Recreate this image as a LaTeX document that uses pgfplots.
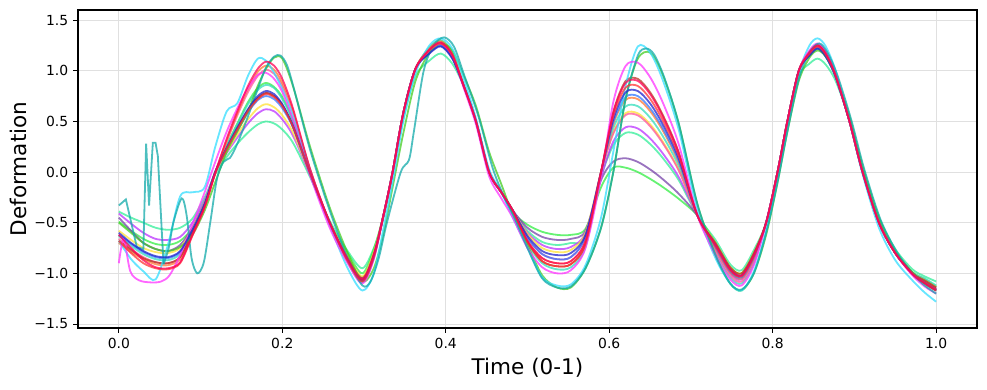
\documentclass[border=0pt]{standalone}
\usepackage{fontspec}
\setmainfont{DejaVu Sans}
\usepackage{pgfplots}
\usepackage{pgfplotstable}
\pgfplotsset{compat=1.18}
\definecolor{csg}{HTML}{33EE99}
\definecolor{cgr}{HTML}{33EE44}
\definecolor{cmp}{HTML}{7744AA}
\definecolor{cvi}{HTML}{BB33FF}
\definecolor{cye}{HTML}{FFE033}
\definecolor{chp}{HTML}{FF5599}
\definecolor{cor}{HTML}{FF7733}
\definecolor{cdb}{HTML}{3377FF}
\definecolor{cbl}{HTML}{2222CC}
\definecolor{cbr}{HTML}{BB3322}
\definecolor{ctq}{HTML}{33DDBB}
\definecolor{ccy}{HTML}{33DDFF}
\definecolor{clm}{HTML}{44CC22}
\definecolor{crd}{HTML}{FF3333}
\definecolor{ccr}{HTML}{FF0055}
\definecolor{cmg}{HTML}{FF33FF}
\definecolor{cte}{HTML}{11AAAA}
\pgfplotstableread{
t sg gr mp vi ye hp or db bl br tq cy lm rd cr
0.000 -0.39 -0.49 -0.45 -0.41 -0.58 -0.66 -0.70 -0.62 -0.60 -0.68 -0.63 -0.68 -0.50 -0.68 -0.62
0.015 -0.45 -0.58 -0.58 -0.51 -0.67 -0.76 -0.79 -0.71 -0.70 -0.77 -0.73 -0.86 -0.60 -0.80 -0.75
0.030 -0.50 -0.66 -0.70 -0.60 -0.75 -0.84 -0.86 -0.79 -0.78 -0.85 -0.81 -0.98 -0.70 -0.90 -0.87
0.045 -0.55 -0.71 -0.76 -0.66 -0.79 -0.89 -0.91 -0.84 -0.83 -0.89 -0.86 -1.06 -0.76 -0.95 -0.94
0.060 -0.57 -0.72 -0.78 -0.67 -0.80 -0.90 -0.92 -0.85 -0.84 -0.90 -0.87 -0.72 -0.78 -0.96 -0.95
0.075 -0.55 -0.68 -0.72 -0.64 -0.75 -0.84 -0.86 -0.79 -0.78 -0.84 -0.81 -0.24 -0.74 -0.90 -0.89
0.090 -0.46 -0.55 -0.55 -0.50 -0.56 -0.60 -0.61 -0.58 -0.57 -0.60 -0.59 -0.20 -0.62 -0.63 -0.62
0.105 -0.25 -0.29 -0.30 -0.28 -0.30 -0.33 -0.34 -0.32 -0.31 -0.33 -0.32 -0.15 -0.38 -0.35 -0.34
0.118 -0.02 -0.01 0.00 0.00 0.00 0.00 -0.01 0.00 0.00 0.00 0.00 0.25 -0.10 -0.01 -0.01
0.132 0.15 0.26 0.23 0.19 0.20 0.30 0.31 0.23 0.24 0.23 0.26 0.60 0.20 0.23 0.33
0.145 0.28 0.48 0.43 0.34 0.37 0.56 0.58 0.41 0.44 0.43 0.47 0.68 0.40 0.42 0.60
0.158 0.39 0.69 0.61 0.48 0.52 0.79 0.82 0.59 0.62 0.61 0.67 0.95 0.60 0.60 0.85
0.170 0.47 0.83 0.73 0.58 0.63 0.95 0.99 0.71 0.75 0.73 0.81 1.12 0.85 0.72 1.02
0.180 0.50 0.88 0.78 0.62 0.67 1.01 1.05 0.75 0.80 0.78 0.86 1.10 1.02 0.77 1.09
0.190 0.48 0.84 0.75 0.60 0.64 0.97 1.01 0.72 0.77 0.75 0.83 0.98 1.13 0.74 1.05
0.200 0.42 0.74 0.66 0.52 0.56 0.85 0.88 0.63 0.67 0.66 0.72 0.82 1.12 0.65 0.92
0.213 0.29 0.51 0.45 0.36 0.39 0.59 0.61 0.44 0.46 0.45 0.50 0.56 0.85 0.45 0.63
0.234 -0.05 0.00 -0.01 -0.03 -0.02 0.02 0.03 -0.02 -0.01 -0.01 0.00 0.02 0.25 -0.01 0.03
0.258 -0.48 -0.50 -0.50 -0.52 -0.50 -0.50 -0.50 -0.50 -0.50 -0.50 -0.50 -0.52 -0.35 -0.50 -0.50
0.280 -0.78 -0.80 -0.84 -0.85 -0.83 -0.86 -0.87 -0.88 -0.87 -0.85 -0.89 -0.95 -0.80 -0.88 -0.86
0.298 -0.95 -1.00 -1.04 -1.05 -1.03 -1.06 -1.07 -1.08 -1.07 -1.05 -1.09 -1.17 -1.08 -1.08 -1.06
0.312 -0.75 -0.76 -0.80 -0.81 -0.79 -0.82 -0.83 -0.84 -0.83 -0.81 -0.85 -1.00 -0.95 -0.84 -0.82
0.324 -0.45 -0.42 -0.42 -0.42 -0.42 -0.42 -0.42 -0.42 -0.42 -0.42 -0.42 -0.55 -0.60 -0.42 -0.42
0.335 -0.02 0.00 0.00 0.00 0.00 0.00 0.00 0.00 0.00 0.00 0.00 -0.10 -0.15 0.00 0.00
0.348 0.52 0.58 0.58 0.58 0.58 0.58 0.58 0.58 0.58 0.58 0.58 0.50 0.38 0.58 0.58
0.363 0.95 1.02 1.02 1.02 1.02 1.02 1.02 1.02 1.02 1.02 1.02 0.98 0.90 1.02 1.02
0.380 1.10 1.18 1.19 1.18 1.23 1.20 1.22 1.18 1.17 1.20 1.23 1.25 1.18 1.20 1.21
0.394 1.17 1.25 1.26 1.25 1.30 1.27 1.29 1.25 1.24 1.27 1.30 1.32 1.27 1.27 1.28
0.408 1.07 1.13 1.14 1.13 1.18 1.15 1.17 1.13 1.12 1.15 1.18 1.22 1.20 1.15 1.16
0.422 0.85 0.85 0.85 0.85 0.86 0.85 0.85 0.85 0.85 0.85 0.86 0.92 0.95 0.85 0.85
0.437 0.50 0.50 0.50 0.50 0.50 0.50 0.50 0.50 0.50 0.50 0.50 0.53 0.65 0.50 0.50
0.453 0.00 0.00 0.00 0.00 0.00 0.00 0.00 0.00 0.00 0.00 0.00 0.03 0.20 0.00 0.00
0.468 -0.20 -0.20 -0.20 -0.20 -0.20 -0.20 -0.20 -0.20 -0.20 -0.20 -0.20 -0.20 -0.12 -0.20 -0.20
0.482 -0.38 -0.40 -0.38 -0.38 -0.38 -0.38 -0.38 -0.38 -0.38 -0.38 -0.38 -0.45 -0.42 -0.38 -0.38
0.500 -0.58 -0.52 -0.55 -0.60 -0.61 -0.65 -0.68 -0.65 -0.63 -0.69 -0.71 -0.75 -0.72 -0.69 -0.68
0.518 -0.69 -0.59 -0.64 -0.72 -0.75 -0.81 -0.85 -0.81 -0.78 -0.88 -0.90 -1.04 -1.02 -0.88 -0.85
0.536 -0.72 -0.62 -0.67 -0.76 -0.79 -0.86 -0.90 -0.86 -0.82 -0.93 -0.96 -1.12 -1.14 -0.93 -0.90
0.553 -0.70 -0.62 -0.66 -0.74 -0.77 -0.84 -0.88 -0.84 -0.80 -0.91 -0.94 -1.11 -1.14 -0.91 -0.88
0.571 -0.65 -0.56 -0.58 -0.60 -0.60 -0.64 -0.68 -0.64 -0.62 -0.71 -0.74 -0.92 -0.95 -0.71 -0.68
0.590 -0.05 -0.15 -0.08 -0.05 0.00 0.00 0.00 0.00 0.00 0.00 -0.02 -0.45 -0.55 0.00 0.00
0.605 0.265 0.043 0.103 0.301 0.391 0.379 0.475 0.493 0.523 0.595 0.433 0.20 0.00 0.553 0.583
0.620 0.387 0.043 0.136 0.442 0.582 0.563 0.712 0.740 0.787 0.898 0.647 0.85 0.72 0.833 0.880
0.635 0.37 0.00 0.10 0.43 0.58 0.56 0.72 0.75 0.80 0.92 0.65 1.24 1.12 0.85 0.90
0.650 0.277 -0.067 0.026 0.332 0.472 0.453 0.602 0.630 0.677 0.788 0.537 1.18 1.18 0.723 0.770
0.665 0.144 -0.145 -0.067 0.190 0.307 0.292 0.417 0.440 0.479 0.573 0.362 0.92 0.97 0.518 0.557
0.685 -0.079 -0.264 -0.214 -0.049 0.026 0.016 0.096 0.111 0.136 0.196 0.061 0.42 0.48 0.161 0.186
0.708 -0.43 -0.43 -0.43 -0.43 -0.43 -0.43 -0.43 -0.43 -0.43 -0.43 -0.43 -0.38 -0.32 -0.43 -0.43
0.730 -0.67 -0.70 -0.73 -0.76 -0.70 -0.78 -0.75 -0.74 -0.72 -0.70 -0.80 -0.85 -0.82 -0.73 -0.72
0.748 -0.91 -0.94 -0.97 -1.00 -0.94 -1.02 -0.99 -0.98 -0.96 -0.94 -1.04 -1.10 -1.10 -0.97 -0.96
0.762 -0.97 -1.00 -1.03 -1.06 -1.00 -1.08 -1.05 -1.04 -1.02 -1.00 -1.10 -1.17 -1.17 -1.03 -1.02
0.777 -0.77 -0.80 -0.83 -0.86 -0.80 -0.88 -0.85 -0.84 -0.82 -0.80 -0.90 -0.98 -1.00 -0.83 -0.82
0.792 -0.50 -0.50 -0.50 -0.50 -0.50 -0.50 -0.50 -0.50 -0.50 -0.50 -0.50 -0.58 -0.62 -0.50 -0.50
0.806 0.00 0.00 0.00 0.00 0.00 0.00 0.00 0.00 0.00 0.00 0.00 -0.05 -0.10 0.00 0.00
0.818 0.48 0.50 0.50 0.50 0.50 0.50 0.50 0.50 0.50 0.50 0.50 0.45 0.40 0.50 0.50
0.832 0.95 1.00 1.00 1.00 1.00 1.00 1.00 1.00 1.00 1.00 1.00 0.98 0.90 1.00 1.00
0.845 1.07 1.15 1.16 1.15 1.17 1.18 1.17 1.16 1.15 1.19 1.15 1.25 1.13 1.17 1.18
0.855 1.12 1.22 1.23 1.22 1.24 1.25 1.24 1.23 1.22 1.26 1.22 1.32 1.20 1.24 1.25
0.865 1.06 1.14 1.15 1.14 1.16 1.17 1.16 1.15 1.14 1.18 1.14 1.24 1.14 1.16 1.17
0.877 0.90 0.94 0.945 0.94 0.95 0.955 0.95 0.945 0.94 0.96 0.94 1.00 0.96 0.95 0.955
0.894 0.52 0.50 0.50 0.50 0.50 0.50 0.50 0.50 0.50 0.50 0.50 0.50 0.55 0.50 0.50
0.910 0.03 0.00 0.00 0.00 0.00 0.00 0.00 0.00 0.00 0.00 0.00 -0.02 0.06 0.00 0.00
0.930 -0.45 -0.50 -0.50 -0.50 -0.50 -0.50 -0.50 -0.50 -0.50 -0.50 -0.50 -0.55 -0.45 -0.50 -0.50
0.950 -0.76 -0.80 -0.80 -0.80 -0.80 -0.80 -0.80 -0.80 -0.80 -0.80 -0.80 -0.87 -0.78 -0.80 -0.80
0.971 -0.96 -0.99 -1.00 -1.00 -0.99 -1.00 -1.01 -1.01 -1.00 -1.00 -0.99 -1.07 -0.99 -1.00 -1.01
0.986 -1.03 -1.06 -1.07 -1.09 -1.06 -1.09 -1.10 -1.10 -1.09 -1.07 -1.05 -1.19 -1.10 -1.09 -1.10
1.000 -1.08 -1.13 -1.14 -1.16 -1.13 -1.16 -1.17 -1.17 -1.16 -1.14 -1.12 -1.28 -1.17 -1.16 -1.17
}\data
\begin{document}
\begin{tikzpicture}
\useasboundingbox (-56.1pt,-43.9pt) rectangle (654pt,236pt);
\begin{axis}[
  scale only axis, width=646.8pt, height=228.8pt,
  xmin=-0.05, xmax=1.05, ymin=-1.54, ymax=1.6,
  xtick={0,0.2,0.4,0.6,0.8,1.0},
  xticklabels={0.0,0.2,0.4,0.6,0.8,1.0},
  ytick={-1.5,-1,-0.5,0,0.5,1,1.5},
  yticklabels={−1.5,−1.0,−0.5,0.0,0.5,1.0,1.5},
  grid=major, major grid style={black!12, line width=0.6pt},
  tick align=outside, tick pos=left, major tick length=3.5pt,
  tick style={black, line width=0.6pt},
  axis line style={line width=0.8pt},
  tick label style={font=\fontsize{10}{12}\selectfont},
  xlabel={Time (0-1)}, ylabel={Deformation},
  label style={font=\fontsize{15.5}{18}\selectfont},
  xlabel style={at={(axis description cs:0.5,-0.125)}, anchor=center},
  ylabel style={at={(axis description cs:-0.066,0.5)}, anchor=center},
  every axis plot/.append style={line width=1.3pt, opacity=0.75, no marks},
]
\addplot[csg, smooth] table[x=t,y=sg]{\data};
\addplot[cgr, smooth] table[x=t,y=gr]{\data};
\addplot[cmp, smooth] table[x=t,y=mp]{\data};
\addplot[cvi, smooth] table[x=t,y=vi]{\data};
\addplot[cye, smooth] table[x=t,y=ye]{\data};
\addplot[ctq, smooth] table[x=t,y=tq]{\data};
\addplot[chp, smooth] table[x=t,y=hp]{\data};
\addplot[cor, smooth] table[x=t,y=or]{\data};
\addplot[cdb, smooth] table[x=t,y=db]{\data};
\addplot[cbr, smooth] table[x=t,y=br]{\data};
\addplot[clm, smooth] table[x=t,y=lm]{\data};
\addplot[ccy, smooth] table[x=t,y=cy]{\data};
\addplot[cmg, smooth] coordinates {
(0.000,-0.90) (0.006,-0.66) (0.014,-0.98) (0.025,-1.07) (0.040,-1.09) (0.052,-1.08)
(0.062,-1.02) (0.075,-0.82) (0.090,-0.52) (0.105,-0.20) (0.118,0.10) (0.132,0.40)
(0.145,0.63) (0.158,0.83) (0.170,0.96) (0.180,0.98) (0.190,0.92) (0.200,0.79)
(0.213,0.52) (0.234,-0.03) (0.258,-0.55) (0.280,-0.90) (0.298,-1.10) (0.312,-0.86)
(0.324,-0.42) (0.335,0.00) (0.348,0.58) (0.363,1.02) (0.380,1.20) (0.394,1.27)
(0.408,1.15) (0.422,0.83) (0.437,0.47) (0.453,-0.04) (0.468,-0.26) (0.482,-0.45)
(0.500,-0.75) (0.518,-0.94) (0.536,-1.00) (0.553,-0.97) (0.571,-0.75) (0.590,-0.05)
(0.605,0.691) (0.620,1.047) (0.635,1.08) (0.650,0.937) (0.665,0.697) (0.685,0.276)
(0.708,-0.43) (0.730,-0.82) (0.748,-1.06) (0.762,-1.12) (0.777,-0.92) (0.792,-0.50)
(0.806,0.00) (0.818,0.50) (0.832,1.00) (0.845,1.20) (0.855,1.27) (0.865,1.19)
(0.877,0.965) (0.894,0.50) (0.910,0.00) (0.930,-0.50) (0.950,-0.80) (0.971,-1.02)
(0.986,-1.13) (1.000,-1.20)};
\addplot[cte, sharp plot] coordinates {
(0.000,-0.33) (0.0086,-0.27) (0.022,-0.74) (0.030,-0.76) (0.0334,0.28) (0.037,-0.33)
(0.0416,0.29) (0.0449,0.29) (0.0477,0.16) (0.0547,-0.91)};
\addplot[cte, smooth] coordinates {
(0.0547,-0.91) (0.061,-0.75) (0.067,-0.49) (0.077,-0.26) (0.083,-0.43) (0.089,-0.85)
(0.096,-1.00) (0.104,-0.89) (0.112,-0.49) (0.120,-0.07) (0.128,0.10) (0.136,0.14)
(0.145,0.28) (0.158,0.55) (0.170,0.82) (0.180,1.03) (0.190,1.14) (0.198,1.15)
(0.206,1.05) (0.215,0.80) (0.234,0.22) (0.258,-0.38) (0.280,-0.85) (0.298,-1.12)
(0.308,-1.08) (0.318,-0.85) (0.328,-0.50) (0.345,0.00) (0.355,0.12) (0.361,0.40)
(0.373,1.00) (0.385,1.25) (0.398,1.33) (0.410,1.24) (0.422,0.97) (0.440,0.55)
(0.457,0.05) (0.470,-0.22) (0.484,-0.45) (0.500,-0.75) (0.518,-1.05) (0.536,-1.14)
(0.553,-1.13) (0.571,-0.95) (0.590,-0.55) (0.605,0.00) (0.620,0.72) (0.635,1.15)
(0.645,1.22) (0.655,1.16) (0.668,0.92) (0.685,0.48) (0.708,-0.32) (0.730,-0.82)
(0.748,-1.10) (0.762,-1.16) (0.777,-1.00) (0.792,-0.60) (0.806,-0.10) (0.818,0.40)
(0.832,0.92) (0.845,1.18) (0.857,1.27) (0.867,1.18) (0.879,0.96) (0.896,0.52)
(0.912,0.03) (0.932,-0.47) (0.952,-0.79) (0.971,-1.00) (0.986,-1.12) (1.000,-1.20)};
\addplot[cbl, smooth] table[x=t,y=bl]{\data};
\addplot[crd, smooth] table[x=t,y=rd]{\data};
\addplot[ccr, smooth] table[x=t,y=cr]{\data};
\end{axis}
\end{tikzpicture}
\end{document}
